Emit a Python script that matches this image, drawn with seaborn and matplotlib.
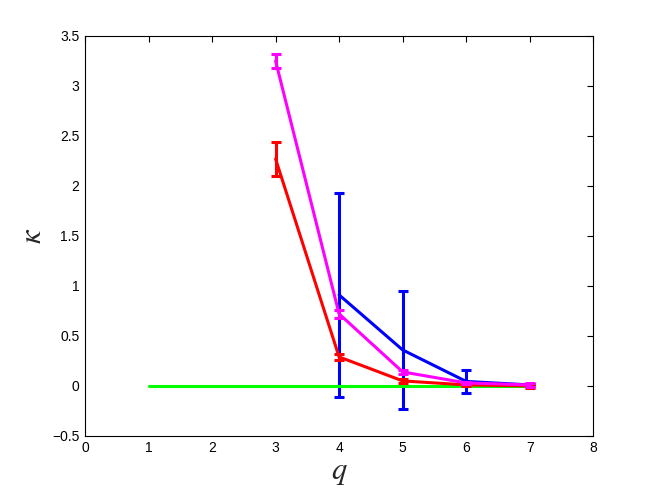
import matplotlib
matplotlib.use('Agg')
import matplotlib.pyplot as plt
import seaborn as sns
import numpy as np
import pandas as pd

# data
q = [3, 4, 5, 6, 7]
kappa_blue = [np.nan, 0.91, 0.36, 0.045, 0.01]
err_blue = [np.nan, 1.02, 0.59, 0.115, 0.01]
kappa_red = [2.27, 0.29, 0.05, 0.01, 0.0]
err_red = [0.17, 0.03, 0.02, 0.01, 0.02]
kappa_mag = [3.25, 0.72, 0.14, 0.03, 0.01]
err_mag = [0.07, 0.04, 0.02, 0.01, 0.02]
q_green = [1, 2, 3, 4, 5, 6, 7]
kappa_green = [0, 0, 0, 0, 0, 0, 0]

sns.set_style('white')
plt.rcParams['font.family'] = ['Liberation Sans', 'DejaVu Sans']
plt.rcParams['mathtext.fontset'] = 'stix'

fig = plt.figure(figsize=(6.54, 4.92), dpi=100)
ax = fig.add_axes([0.130, 0.114, 0.777, 0.813])

series = [(kappa_blue, err_blue, '#0000ff'),
          (kappa_red, err_red, '#ff0000'),
          (kappa_mag, err_mag, '#ff00ff')]

# blue first, green, then red and magenta on top
k, e, c = series[0]
df = pd.DataFrame({'q': q, 'k': k}).dropna()
sns.lineplot(data=df, x='q', y='k', color=c, lw=2.2, ax=ax)
ax.errorbar(q, k, yerr=e, fmt='none', ecolor=c, elinewidth=2.2, capsize=3.5, capthick=2.2)

sns.lineplot(x=q_green, y=kappa_green, color='#00ff00', lw=2.2, ax=ax)

for k, e, c in series[1:]:
    df = pd.DataFrame({'q': q, 'k': k})
    sns.lineplot(data=df, x='q', y='k', color=c, lw=2.2, ax=ax)
    ax.errorbar(q, k, yerr=e, fmt='none', ecolor=c, elinewidth=2.2, capsize=3.5, capthick=2.2)

ax.set_xlim(0, 8)
ax.set_ylim(-0.5, 3.5)
ax.set_xticks(range(0, 9))
ax.set_yticks(np.arange(-0.5, 3.51, 0.5))
ax.set_yticklabels(['\u22120.5', '0', '0.5', '1', '1.5', '2', '2.5', '3', '3.5'])
ax.tick_params(direction='in', length=4, width=0.8, top=True, right=True,
               labelsize=10, colors='black', pad=4)
for s in ax.spines.values():
    s.set_color('black')
    s.set_linewidth(0.8)
    s.set_visible(True)

ax.set_xlabel(r'$q$', fontsize=22, labelpad=1)
ax.set_ylabel(r'$\kappa$', fontsize=22, labelpad=3)

fig.savefig('out.png', dpi=100)
